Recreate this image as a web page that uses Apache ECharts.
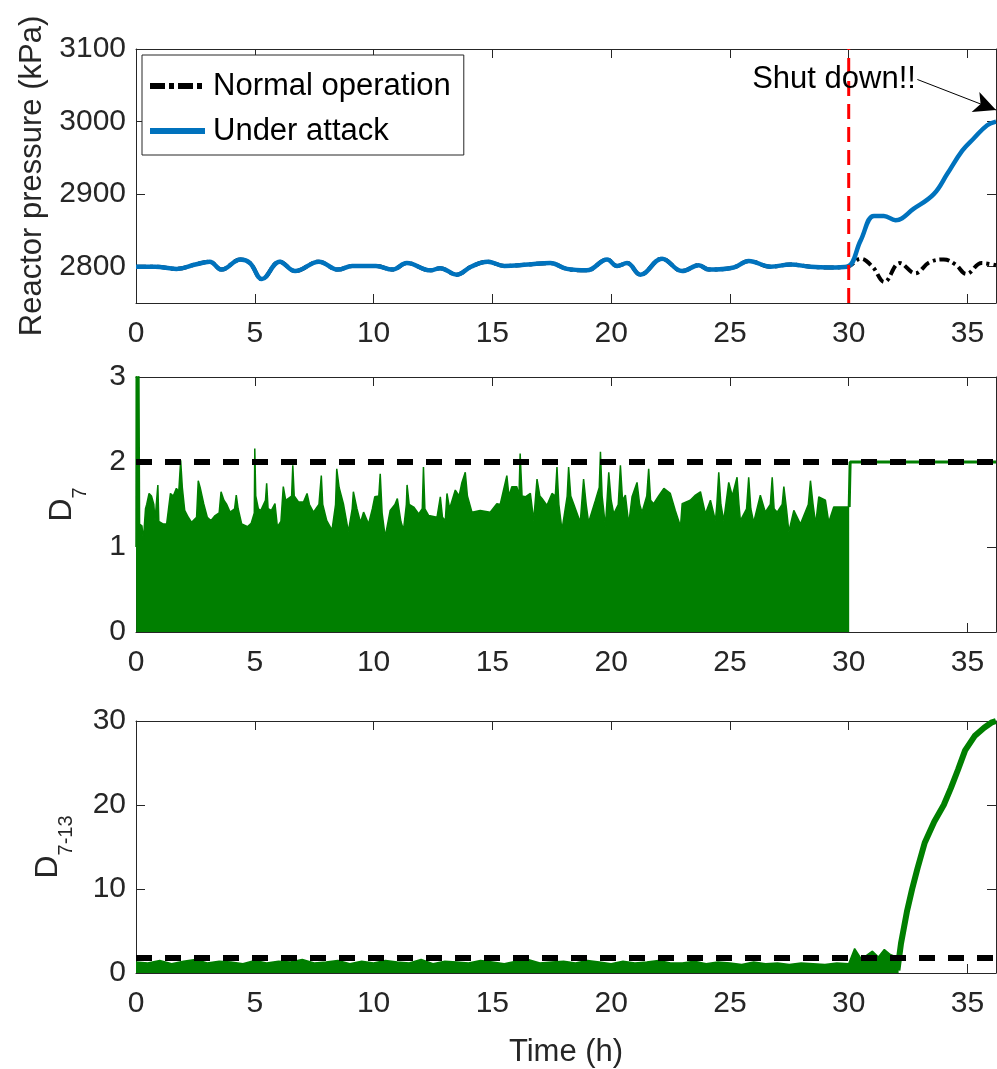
<!DOCTYPE html>
<html>
<head>
<meta charset="utf-8">
<script src="https://cdn.jsdelivr.net/npm/echarts@6.0.0/dist/echarts.min.js"></script>
<style>
  html, body { margin: 0; padding: 0; background: #fff; }
  #chart { width: 997px; height: 1069px; }
</style>
</head>
<body>
<div id="chart"></div>
<script>
// ---- data -------------------------------------------------------------
const timeTicks = [0, 5, 10, 15, 20, 25, 30, 35];
const timeMax = 36.2;
const attackStart = 30;

const pressureTicks = [2800, 2900, 3000, 3100];
const pressureRange = [2750, 3100];

// reactor pressure (kPa) while the attack is running: [time h, value]
const attackPressure = [
  [0, 2800], [0.8, 2800], [1.7, 2797], [2.5, 2803], [3.1, 2807], [3.6, 2796],
  [4.4, 2810], [4.8, 2805], [5.3, 2783], [6.05, 2807], [6.7, 2794], [7.7, 2807],
  [8.5, 2796], [9.1, 2801], [10.1, 2801], [10.8, 2796], [11.4, 2805], [12.4, 2795],
  [12.8, 2798], [13.5, 2789], [14.1, 2800], [14.8, 2807], [15.5, 2801], [16.5, 2803],
  [17.44, 2805], [18.14, 2797], [18.98, 2795], [19.83, 2810], [20.25, 2801], [20.67, 2805],
  [21.23, 2789], [22.14, 2811], [22.99, 2794], [23.69, 2802], [24.11, 2796], [25.16, 2799],
  [25.79, 2808], [26.71, 2800], [27.55, 2803], [28.39, 2800], [29.2, 2799], [29.94, 2800],
  [30.5, 2836], [31.06, 2870], [31.48, 2870], [31.97, 2864], [32.74, 2880], [33.58, 2900],
  [34.15, 2928], [34.78, 2960], [35.27, 2977], [35.83, 2995], [36.2, 3000]
];
// reactor pressure (kPa) in normal operation after the attack time
const normalPressure = [
  [29.94, 2800], [30.5, 2811], [31.0, 2800], [31.5, 2779], [32.15, 2805], [32.8, 2791],
  [33.4, 2806], [34.0, 2810], [34.5, 2803], [34.95, 2790], [35.6, 2805], [36.2, 2802]
];

// D7 detector statistic: upper envelope of the fast signal before the attack
const d7Envelope = [
  [0, 1.0], [0.01, 3.2], [0.12, 3.2], [0.15, 1.27], [0.25, 1.25], [0.31, 1.08], [0.40, 1.45],
  [0.45, 1.5], [0.55, 1.63], [0.65, 1.6], [0.75, 1.5], [0.80, 1.31], [0.88, 1.30], [0.92, 1.73],
  [0.96, 1.3], [1.15, 1.27], [1.29, 1.27], [1.45, 1.63], [1.57, 1.6], [1.70, 1.69], [1.80, 1.65],
  [1.88, 2.02], [1.95, 1.7], [2.05, 1.43], [2.2, 1.35], [2.34, 1.29], [2.55, 1.35], [2.62, 1.78],
  [2.70, 1.7], [2.85, 1.51], [3.0, 1.35], [3.15, 1.31], [3.33, 1.37], [3.50, 1.40], [3.58, 1.65],
  [3.70, 1.55], [3.82, 1.5], [3.96, 1.41], [4.15, 1.45], [4.22, 1.61], [4.30, 1.45], [4.45, 1.27],
  [4.70, 1.24], [4.85, 1.28], [4.98, 1.40], [5.0, 2.16], [5.04, 1.6], [5.15, 1.45], [5.25, 1.43],
  [5.45, 1.55], [5.50, 1.75], [5.56, 1.45], [5.70, 1.43], [5.85, 1.51], [5.95, 1.24], [6.10, 1.3],
  [6.2, 1.71], [6.30, 1.55], [6.55, 1.6], [6.60, 1.96], [6.66, 1.6], [6.84, 1.53], [7.05, 1.53],
  [7.20, 1.63], [7.30, 1.5], [7.47, 1.41], [7.70, 1.5], [7.80, 1.84], [7.86, 1.5], [8.03, 1.31],
  [8.25, 1.20], [8.40, 1.5], [8.45, 1.92], [8.55, 1.7], [8.73, 1.51], [8.94, 1.18], [9.10, 1.45],
  [9.15, 1.65], [9.30, 1.45], [9.45, 1.29], [9.58, 1.41], [9.79, 1.27], [9.95, 1.45], [10.05, 1.59],
  [10.22, 1.6], [10.28, 1.86], [10.36, 1.4], [10.49, 1.12], [10.70, 1.43], [10.90, 1.5], [11.0, 1.57],
  [11.15, 1.3], [11.26, 1.20], [11.38, 1.5], [11.41, 1.73], [11.50, 1.5], [11.69, 1.47], [11.90, 1.39],
  [12.05, 1.45], [12.10, 1.94], [12.16, 1.45], [12.32, 1.37], [12.67, 1.35], [12.81, 1.59], [12.90, 1.35],
  [13.02, 1.31], [13.09, 1.63], [13.2, 1.45], [13.44, 1.67], [13.60, 1.6], [13.72, 1.76], [13.86, 1.88],
  [13.95, 1.6], [14.14, 1.41], [14.49, 1.43], [14.91, 1.41], [15.19, 1.51], [15.33, 1.5], [15.61, 1.84],
  [15.70, 1.6], [15.82, 1.71], [16.03, 1.71], [16.12, 1.6], [16.17, 2.10], [16.25, 1.6], [16.39, 1.59],
  [16.60, 1.63], [16.74, 1.31], [16.88, 1.80], [17.0, 1.6], [17.09, 1.57], [17.30, 1.49], [17.51, 1.63],
  [17.65, 1.6], [17.72, 1.94], [17.80, 1.5], [17.93, 1.20], [18.15, 1.6], [18.21, 1.94], [18.30, 1.6],
  [18.42, 1.51], [18.70, 1.29], [18.84, 1.80], [18.95, 1.5], [19.05, 1.29], [19.34, 1.55], [19.50, 1.7],
  [19.55, 2.12], [19.62, 1.6], [19.76, 1.24], [19.90, 1.88], [20.0, 1.55], [20.11, 1.39], [20.30, 1.5],
  [20.39, 1.96], [20.48, 1.55], [20.60, 1.61], [20.74, 1.27], [20.88, 1.59], [21.09, 1.76], [21.20, 1.5],
  [21.30, 1.41], [21.50, 1.6], [21.58, 1.92], [21.66, 1.55], [21.79, 1.51], [22.0, 1.6], [22.22, 1.69],
  [22.49, 1.63], [22.70, 1.43], [22.92, 1.24], [22.99, 1.51], [23.33, 1.55], [23.55, 1.61], [23.76, 1.65],
  [23.97, 1.39], [24.18, 1.55], [24.39, 1.31], [24.45, 1.5], [24.53, 1.88], [24.62, 1.5], [24.74, 1.31],
  [24.95, 1.76], [25.10, 1.6], [25.30, 1.82], [25.38, 1.5], [25.44, 1.31], [25.70, 1.45], [25.79, 1.82],
  [25.88, 1.45], [26.00, 1.29], [26.28, 1.61], [26.49, 1.41], [26.70, 1.5], [26.78, 1.82], [26.86, 1.45],
  [26.99, 1.41], [27.20, 1.5], [27.27, 1.71], [27.38, 1.45], [27.48, 1.18], [27.69, 1.43], [27.97, 1.27],
  [28.30, 1.5], [28.39, 1.78], [28.50, 1.5], [28.61, 1.27], [28.74, 1.59], [29.02, 1.55], [29.16, 1.29],
  [29.37, 1.47], [29.80, 1.47], [30.02, 1.47]
];
// D7 after the attack starts: saturates at the threshold
const d7AfterAttack = [[30.02, 1.47], [30.06, 2.0], [36.2, 2.0]];
const d7Threshold = 2;

// D7-13 detector statistic: upper envelope of the noisy band
const d713Band = [
  [0, 1.3], [0.5, 1.2], [1, 1.5], [1.5, 1.1], [2, 1.4], [2.5, 1.6], [3, 1.2], [3.5, 1.4],
  [4, 1.3], [4.5, 1.1], [5, 1.5], [5.5, 1.2], [6, 1.4], [6.5, 1.3], [7, 1.6], [7.5, 1.2],
  [8, 1.3], [8.5, 1.5], [9, 1.1], [9.5, 1.4], [10, 1.2], [10.5, 1.5], [11, 1.3], [11.5, 1.2],
  [12, 1.6], [12.5, 1.1], [13, 1.4], [13.5, 1.3], [14, 1.2], [14.5, 1.5], [15, 1.3], [15.5, 1.1],
  [16, 1.4], [16.5, 1.6], [17, 1.2], [17.5, 1.3], [18, 1.4], [18.5, 1.2], [19, 1.5], [19.5, 1.3],
  [20, 1.1], [20.5, 1.4], [21, 1.2], [21.5, 1.3], [22, 1.5], [22.5, 1.2], [23, 1.2], [23.5, 1.4],
  [24, 1.1], [24.5, 1.3], [25, 1.2], [25.5, 1.0], [26, 1.3], [26.5, 1.1], [27, 1.2], [27.5, 1.0],
  [28, 1.2], [28.5, 1.1], [29, 1.0], [29.5, 1.2], [30, 1.1], [30.25, 2.9], [30.5, 1.8], [30.75, 2.1],
  [31, 2.6], [31.25, 1.9], [31.5, 2.8], [31.75, 2.2], [32, 1.9], [32.1, 1.5]
];
// D7-13 after detection: climbs to the top of the scale
const d713Rise = [
  [32.05, 0.3], [32.2, 3.5], [32.45, 7.3], [32.67, 10], [32.9, 12.5], [33.2, 15.5], [33.6, 18],
  [34.0, 20], [34.3, 22], [34.6, 24.2], [34.9, 26.5], [35.3, 28.2], [35.7, 29.2], [36.0, 29.8], [36.2, 30]
];
const d713Threshold = 1.8;

const shutdownText = 'Shut down!!';
const shutdownArrow = [[32.89, 3058], [36.2, 3016]];

// ---- styling ----------------------------------------------------------
const FONT = 'Liberation Sans, Arial, sans-serif';
const AX = '#262626';
const GREEN = '#007f00';
const BLUE = '#0072bd';

// legend swatches: solid bar and dash-dot bar
const ICON_SOLID = 'path://M0,0h55v6h-55z';
const ICON_DASHDOT = 'path://M0,0h15v6h-15z M19,0h5v6h-5z M28,0h15v6h-15z M47,0h5v6h-5z M55,0h0v6h0z';

const grids = [
  { left: 136, top: 49, width: 860, height: 254 },
  { left: 136, top: 377, width: 860, height: 255 },
  { left: 136, top: 721, width: 860, height: 253 }
];

const plainNumber = v => String(v);

function timeAxes(gi, withName) {
  const base = {
    type: 'value', gridIndex: gi, min: 0, max: timeMax,
    splitLine: { show: false },
    axisLine: { show: true, onZero: false, lineStyle: { color: AX, width: 1 } },
    axisTick: { show: true, inside: true, length: 9, customValues: timeTicks, lineStyle: { color: AX } }
  };
  const bottom = Object.assign({}, base, {
    position: 'bottom',
    axisLabel: { customValues: timeTicks, formatter: plainNumber, fontSize: 30, color: AX, fontFamily: FONT, margin: 16 }
  });
  if (withName) {
    Object.assign(bottom, {
      name: 'Time (h)', nameLocation: 'middle', nameGap: 64,
      nameTextStyle: { fontSize: 31, color: AX, fontFamily: FONT }
    });
  }
  const top = Object.assign({}, base, { position: 'top', axisLabel: { show: false } });
  return [bottom, top];
}

function valueAxes(gi, min, max, ticks, name, nameGap, rich) {
  const base = {
    type: 'value', gridIndex: gi, min: min, max: max,
    splitLine: { show: false },
    axisLine: { show: true, onZero: false, lineStyle: { color: AX, width: 1 } },
    axisTick: { show: true, inside: true, length: 9, customValues: ticks, lineStyle: { color: AX } }
  };
  const left = Object.assign({}, base, {
    position: 'left',
    axisLabel: { customValues: ticks, formatter: plainNumber, fontSize: 30, color: AX, fontFamily: FONT, margin: 10 },
    name: name, nameLocation: 'middle', nameGap: nameGap, nameRotate: 90,
    nameTextStyle: Object.assign({ fontSize: 31, color: AX, fontFamily: FONT }, rich ? { rich: rich } : {})
  });
  const right = Object.assign({}, base, { position: 'right', axisLabel: { show: false } });
  return [left, right];
}

const subRich = {
  d: { fontSize: 32, color: AX, fontFamily: FONT, verticalAlign: 'bottom', padding: [0, 0, 12, 0] },
  s: { fontSize: 20, color: AX, fontFamily: FONT, verticalAlign: 'bottom' }
};

const xAxis = [].concat(timeAxes(0, false), timeAxes(1, false), timeAxes(2, true));
const yAxis = [].concat(
  valueAxes(0, pressureRange[0], pressureRange[1], pressureTicks, 'Reactor pressure (kPa)', 78, null),
  valueAxes(1, 0, 3, [0, 1, 2, 3], '{d|D}{s|7}', 46, subRich),
  valueAxes(2, 0, 30, [0, 10, 20, 30], '{d|D}{s|7-13}', 60, subRich)
);

const option = {
  animation: false,
  backgroundColor: '#fff',
  grid: grids,
  xAxis: xAxis,
  yAxis: yAxis,
  legend: {
    data: [
      { name: 'Normal operation', icon: ICON_DASHDOT },
      { name: 'Under attack', icon: ICON_SOLID }
    ],
    orient: 'vertical', left: 142, top: 55,
    itemWidth: 55, itemHeight: 6, itemGap: 9,
    padding: [13, 13, 6, 8],
    borderColor: AX, borderWidth: 1, borderRadius: 0,
    backgroundColor: '#fff',
    textStyle: { fontSize: 31, color: '#000', fontFamily: FONT, lineHeight: 36, padding: [0, 0, 0, 3] }
  },
  series: [
    // panel 1: reactor pressure
    {
      name: 'Normal operation', type: 'line', xAxisIndex: 0, yAxisIndex: 0,
      data: attackPressure.filter(p => p[0] < attackStart).concat(normalPressure),
      showSymbol: false, symbol: 'none', smooth: 0.4,
      lineStyle: { color: '#000', width: 4, type: [10, 4, 3, 4] },
      itemStyle: { color: '#000' }, z: 2
    },
    {
      name: 'Under attack', type: 'line', xAxisIndex: 0, yAxisIndex: 0,
      data: attackPressure,
      showSymbol: false, symbol: 'none', smooth: 0.4,
      lineStyle: { color: BLUE, width: 4.5 },
      itemStyle: { color: BLUE }, z: 3,
      markPoint: {
        silent: true, symbol: 'circle', symbolSize: 1,
        itemStyle: { color: 'rgba(0,0,0,0)' },
        label: { show: true, position: 'left', distance: 1, formatter: shutdownText,
                 fontSize: 31, color: '#000', fontFamily: FONT },
        data: [{ coord: shutdownArrow[0] }]
      },
      markLine: {
        silent: true, symbol: ['none', 'arrow'], symbolSize: [16, 22],
        label: { show: false },
        lineStyle: { color: '#000', width: 1, type: 'solid' },
        data: [[{ coord: shutdownArrow[0] }, { coord: shutdownArrow[1] }]]
      }
    },
    {
      name: 'attack onset', type: 'line', xAxisIndex: 0, yAxisIndex: 0,
      data: [[attackStart, pressureRange[0]], [attackStart, pressureRange[1]]],
      showSymbol: false, symbol: 'none',
      lineStyle: { color: '#ff0000', width: 3, type: [15, 8] }, z: 4
    },
    // panel 2: D7
    {
      name: 'D7', type: 'line', xAxisIndex: 2, yAxisIndex: 2,
      data: d7Envelope, showSymbol: false, symbol: 'none',
      lineStyle: { color: GREEN, width: 1.5 },
      areaStyle: { color: GREEN, opacity: 1 }, z: 2
    },
    {
      name: 'D7 attack', type: 'line', xAxisIndex: 2, yAxisIndex: 2,
      data: d7AfterAttack, showSymbol: false, symbol: 'none',
      lineStyle: { color: GREEN, width: 3 }, z: 2
    },
    {
      name: 'D7 threshold', type: 'line', xAxisIndex: 2, yAxisIndex: 2,
      data: [[0, d7Threshold], [timeMax, d7Threshold]], showSymbol: false, symbol: 'none',
      lineStyle: { color: '#000', width: 6, type: [16, 13] }, z: 3
    },
    // panel 3: D7-13
    {
      name: 'D7-13', type: 'line', xAxisIndex: 4, yAxisIndex: 4,
      data: d713Band, showSymbol: false, symbol: 'none',
      lineStyle: { color: GREEN, width: 1.5 },
      areaStyle: { color: GREEN, opacity: 1 }, z: 2
    },
    {
      name: 'D7-13 rise', type: 'line', xAxisIndex: 4, yAxisIndex: 4,
      data: d713Rise, showSymbol: false, symbol: 'none',
      lineStyle: { color: GREEN, width: 6 }, z: 2
    },
    {
      name: 'D7-13 threshold', type: 'line', xAxisIndex: 4, yAxisIndex: 4,
      data: [[0, d713Threshold], [timeMax, d713Threshold]], showSymbol: false, symbol: 'none',
      lineStyle: { color: '#000', width: 6, type: [16, 13] }, z: 3
    }
  ]
};

const chart = echarts.init(document.getElementById('chart'), null, { renderer: 'canvas' });
chart.setOption(option);
</script>
</body>
</html>
